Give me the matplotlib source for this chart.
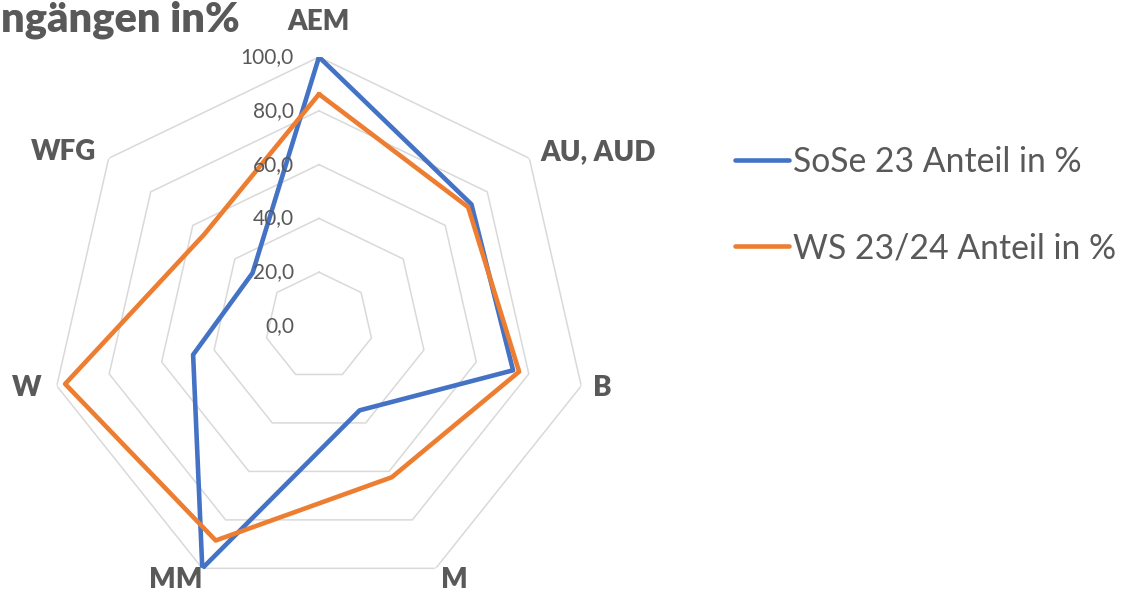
import numpy as np
import matplotlib
matplotlib.use("Agg")
import matplotlib.pyplot as plt

plt.rcParams['font.family'] = ['Lato', 'DejaVu Sans']

# Data
categories = ["AEM", "AU, AUD", "B", "M", "MM", "W", "WFG"]
sose23 = [100.0, 72.5, 74.0, 34.8, 100.0, 48.0, 31.6]
ws2324 = [86.2, 70.9, 76.3, 62.4, 88.5, 96.8, 54.6]
ring_values = [0.0, 20.0, 40.0, 60.0, 80.0, 100.0]
series_names = ["SoSe 23 Anteil in %", "WS 23/24 Anteil in %"]
title_text = "ngängen in%"

BLUE = "#4472C4"
ORANGE = "#ED7D31"
GRID = "#D9D9D9"
TEXT = "#595959"

W_PX, H_PX = 1128, 593
fig = plt.figure(figsize=(W_PX / 100, H_PX / 100), dpi=100)

# polar axes: centre at (319, 326) px, radius 269 px for value 100
cx, cy, R = 319, 326, 269
ax = fig.add_axes([(cx - R) / W_PX, (H_PX - cy - R) / H_PX, 2 * R / W_PX, 2 * R / H_PX],
                  projection='polar')
ax.set_theta_zero_location('N')
ax.set_theta_direction(-1)
ax.set_ylim(0, 100)
ax.grid(False)
ax.spines['polar'].set_visible(False)
ax.set_xticks([])
ax.set_yticks([])
ax.patch.set_alpha(0)

n = len(categories)
theta = np.arange(n) * 2 * np.pi / n
theta_closed = np.append(theta, theta[0])

# heptagon grid rings (skip the 0 ring, it collapses to the centre)
for v in ring_values[1:]:
    ax.plot(theta_closed, [v] * (n + 1), color=GRID, lw=1.1, zorder=1)

# series
ax.plot(theta_closed, sose23 + sose23[:1], color=BLUE, lw=3.3, zorder=3,
        label=series_names[0], solid_capstyle='round')
ax.plot(theta_closed, ws2324 + ws2324[:1], color=ORANGE, lw=3.3, zorder=4,
        label=series_names[1], solid_capstyle='round')

# ring value labels along the AEM axis
for v in ring_values:
    ax.annotate(f"{v:.1f}".replace(".", ","), xy=(0, v), xytext=(-25, 0),
                textcoords='offset pixels', ha='right', va='center',
                fontsize=15, color=TEXT, zorder=5)

# category labels, placed around the outer vertices
label_offsets = [(0, 35, 'center'), (11, 6, 'left'), (12, -2, 'left'),
                 (19, -12, 'center'), (-27, -12, 'center'),
                 (-15, -2, 'right'), (-12, 6, 'right')]
for t, name, (ox, oy, ha) in zip(theta, categories, label_offsets):
    ax.annotate(name, xy=(t, 100), xytext=(ox, oy), textcoords='offset pixels',
                ha=ha, va='center', fontsize=20, fontweight='heavy', color=TEXT,
                annotation_clip=False)

# title (only the visible tail of the original title)
fig.text(1 / W_PX, 1 - 20 / H_PX, title_text, ha='left', va='center',
         fontsize=30, fontweight='heavy', color=TEXT)

leg = fig.legend(loc='upper left', bbox_to_anchor=(735 / W_PX, 1 - 146 / H_PX),
                 frameon=False, fontsize=24.3, handlelength=1.6, handletextpad=0.12,
                 labelspacing=1.6, borderpad=0, borderaxespad=0)
for txt in leg.get_texts():
    txt.set_color(TEXT)

fig.savefig("out.png", dpi=100)
